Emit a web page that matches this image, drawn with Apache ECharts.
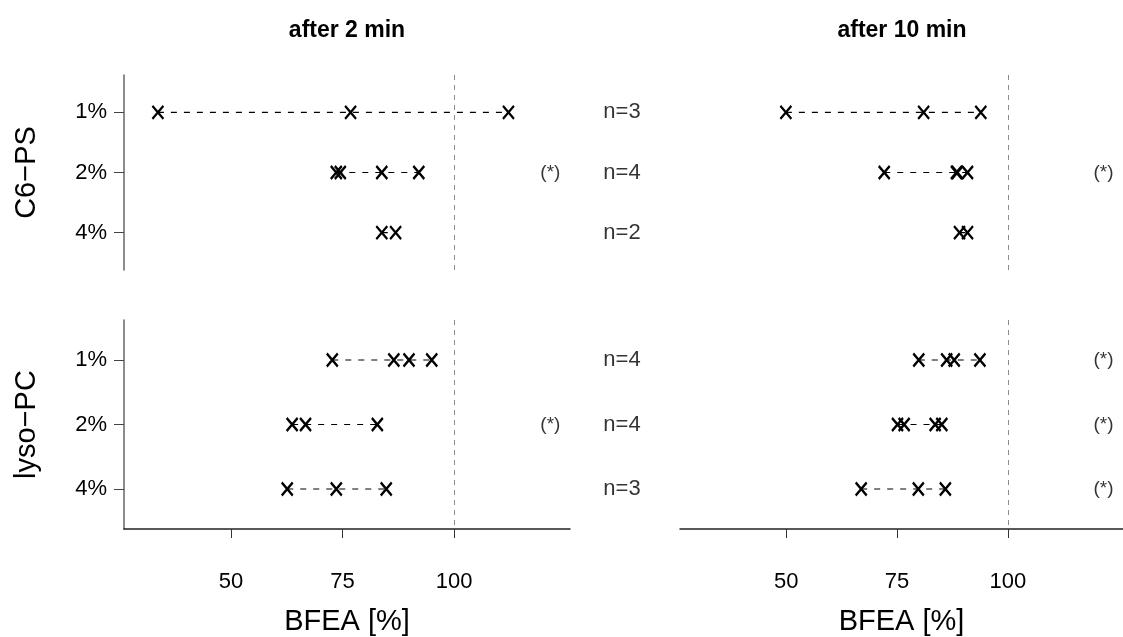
<!DOCTYPE html>
<html>
<head>
<meta charset="utf-8">
<script src="https://cdn.jsdelivr.net/npm/echarts@6/dist/echarts.min.js"></script>
<style>
  html, body { margin: 0; padding: 0; background: #fff; }
  #chart { width: 1123px; height: 637px; }
</style>
</head>
<body>
<div id="chart"></div>
<script>
// Concentration rows, lipid groups and the two time points
const rowLabels = ['1%', '2%', '4%'];
const lipidNames = ['C6−PS', 'lyso−PC'];
const panelTitles = ['after 2 min', 'after 10 min'];
const xTicks = [50, 75, 100];
const referenceLevel = 100;

// BFEA [%] per replicate, one inner array per concentration row
const c6ps2min = [[33.6, 76.8, 112.2], [73.6, 74.5, 83.8, 92.1], [83.8, 86.9]];
const lysoPc2min = [[72.7, 86.5, 89.9, 95.0], [63.7, 66.7, 82.8], [62.6, 73.6, 84.8]];
const c6ps10min = [[49.9, 81.0, 93.9], [72.1, 88.4, 88.6, 90.9], [89.1, 90.9]];
const lysoPc10min = [[79.9, 86.2, 87.9, 93.7], [75.1, 76.6, 83.6, 85.1], [66.9, 79.8, 85.9]];

// Significance flags, printed as "(*)"
const c6psSig2min = [false, true, false];
const lysoPcSig2min = [false, true, false];
const c6psSig10min = [false, true, false];
const lysoPcSig10min = [true, true, true];

// Replicate counts per row (shared by both time points)
const c6psN = [3, 4, 2];
const lysoPcN = [4, 4, 3];

const FONT = '"Liberation Sans", Arial, Helvetica, sans-serif';
const X_MIN = 26, X_MAX = 126;
const Y_MIN = 0.38, Y_MAX = 3.62;
const SIG_X = 121.6;
const crossPath = 'path://M0,0L10,10M10,0L0,10';

// grid index layout: [time][lipid]
const panels = [
  { time: 0, lipid: 0, values: c6ps2min, sig: c6psSig2min, counts: c6psN },
  { time: 0, lipid: 1, values: lysoPc2min, sig: lysoPcSig2min, counts: lysoPcN },
  { time: 1, lipid: 0, values: c6ps10min, sig: c6psSig10min, counts: null },
  { time: 1, lipid: 1, values: lysoPc10min, sig: lysoPcSig10min, counts: null }
];

const gridBoxes = panels.map(p => ({
  left: p.time === 0 ? 124 : 680,
  top: p.lipid === 0 ? 75 : 320,
  width: 446,
  height: p.lipid === 0 ? 195 : 209
}));

const xAxes = panels.map((p, i) => ({
  type: 'value',
  gridIndex: i,
  min: X_MIN,
  max: X_MAX,
  show: p.lipid === 1,
  splitLine: { show: false },
  axisLine: { show: true, lineStyle: { color: '#222', width: 1.5 } },
  axisTick: { show: true, customValues: xTicks, length: 9, lineStyle: { color: '#333', width: 1 } },
  axisLabel: { customValues: xTicks, margin: 42, fontSize: 22, color: '#000', fontFamily: FONT },
  name: 'BFEA [%]',
  nameLocation: 'middle',
  nameGap: 78,
  nameTextStyle: { fontSize: 29, color: '#000', fontFamily: FONT }
}));

const yAxes = panels.map((p, i) => ({
  type: 'value',
  gridIndex: i,
  inverse: true,
  min: Y_MIN,
  max: Y_MAX,
  show: p.time === 0,
  splitLine: { show: false },
  axisLine: { show: true, lineStyle: { color: '#666', width: 1.5 } },
  axisTick: { show: true, customValues: [1, 2, 3], length: 10, lineStyle: { color: '#444', width: 1 } },
  axisLabel: {
    customValues: [1, 2, 3],
    formatter: v => rowLabels[Math.round(v) - 1],
    margin: 17, fontSize: 22, color: '#000', fontFamily: FONT
  },
  name: lipidNames[p.lipid],
  nameLocation: 'middle',
  nameRotate: 90,
  nameGap: 83,
  nameTextStyle: { fontSize: 29, color: '#000', fontFamily: FONT }
}));

const series = [];
panels.forEach((p, i) => {
  // dashed connectors through each row's replicates
  p.values.forEach((row, r) => {
    series.push({
      type: 'line',
      xAxisIndex: i, yAxisIndex: i,
      data: row.slice().sort((a, b) => a - b).map(v => [v, r + 1]),
      showSymbol: false,
      silent: true,
      animation: false,
      lineStyle: { color: '#000', width: 1.2, type: [6, 7] },
      z: 2
    });
  });
  // replicate markers and the 100 % reference line
  const pts = [];
  p.values.forEach((row, r) => row.forEach(v => pts.push([v, r + 1])));
  series.push({
    type: 'scatter',
    xAxisIndex: i, yAxisIndex: i,
    data: pts,
    symbol: crossPath,
    symbolSize: [11, 13],
    silent: true,
    animation: false,
    itemStyle: { color: 'rgba(0,0,0,0)', borderColor: '#000', borderWidth: 2.3, opacity: 1 },
    z: 3,
    markLine: {
      silent: true,
      symbol: 'none',
      animation: false,
      label: { show: false },
      lineStyle: { color: '#8c8c8c', width: 1, type: [5, 5] },
      data: [{ xAxis: referenceLevel }]
    }
  });
  // significance marks
  const sigPts = [];
  p.sig.forEach((s, r) => { if (s) sigPts.push([SIG_X, r + 1]); });
  series.push({
    type: 'scatter',
    xAxisIndex: i, yAxisIndex: i,
    data: sigPts,
    symbolSize: 0,
    silent: true,
    animation: false,
    label: {
      show: true, position: 'inside', formatter: '(*)',
      fontSize: 19, color: '#000', fontFamily: FONT
    }
  });
  // replicate counts between the two panels
  if (p.counts) {
    series.push({
      type: 'scatter',
      xAxisIndex: i, yAxisIndex: i,
      data: p.counts.map((n, r) => [X_MAX, r + 1, n]),
      symbolSize: 0,
      silent: true,
      animation: false,
      clip: false,
      label: {
        show: true, position: 'inside', offset: [52, 0],
        formatter: d => 'n=' + d.value[2],
        fontSize: 22, color: '#000', fontFamily: FONT
      }
    });
  }
});

const chart = echarts.init(document.getElementById('chart'), null, { renderer: 'canvas' });
chart.setOption({
  backgroundColor: '#fff',
  animation: false,
  grid: gridBoxes,
  xAxis: xAxes,
  yAxis: yAxes,
  series: series,
  graphic: panelTitles.map((t, k) => ({
    type: 'text',
    x: k === 0 ? 347 : 902,
    y: 31,
    style: {
      text: t, fill: '#000',
      font: 'bold 23px ' + FONT,
      textAlign: 'center', textVerticalAlign: 'middle'
    }
  }))
});
</script>
</body>
</html>
